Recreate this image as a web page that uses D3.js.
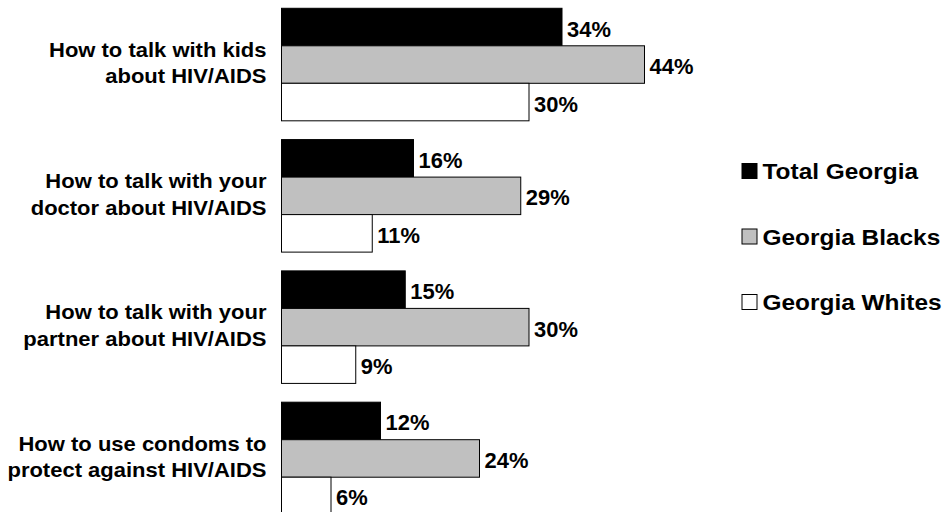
<!DOCTYPE html>
<html>
<head>
<meta charset="utf-8">
<script src="https://cdn.jsdelivr.net/npm/d3@7"></script>
<style>
  html, body { margin: 0; padding: 0; background: #fff; }
  svg { display: block; font-family: "Liberation Sans", Arial, Helvetica, sans-serif; font-weight: bold; }
</style>
</head>
<body>
<svg id="chart" width="948" height="512"></svg>
<script>
const categories = [
  ["How to talk with kids", "about HIV/AIDS"],
  ["How to talk with your", "doctor about HIV/AIDS"],
  ["How to talk with your", "partner about HIV/AIDS"],
  ["How to use condoms to", "protect against HIV/AIDS"]
];
const seriesNames = ["Total Georgia", "Georgia Blacks", "Georgia Whites"];
const seriesColors = ["#000000", "#c0c0c0", "#ffffff"];
const totalGeorgia = [34, 16, 15, 12];
const georgiaBlacks = [44, 29, 30, 24];
const georgiaWhites = [30, 11, 9, 6];
const seriesValues = [totalGeorgia, georgiaBlacks, georgiaWhites];

const svg = d3.select("#chart");

const catIdx = categories.map((c, i) => i);
const y = d3.scaleBand().domain(catIdx).range([-1.1, 524.1]).paddingInner(0.143).paddingOuter(0.0715);
const ySub = d3.scaleBand().domain(d3.range(seriesNames.length)).range([0, y.bandwidth()]);
const x = d3.scaleLinear().domain([0, 44]).range([281.5, 644.5]);

const groups = svg.selectAll("g.grp").data(catIdx).join("g")
  .attr("class", "grp")
  .attr("transform", i => `translate(0,${y(i)})`);

seriesNames.forEach((name, s) => {
  groups.append("rect")
    .attr("x", x(0))
    .attr("y", ySub(s))
    .attr("width", i => x(seriesValues[s][i]) - x(0))
    .attr("height", ySub.bandwidth())
    .attr("fill", seriesColors[s])
    .attr("stroke", "#000")
    .attr("stroke-width", 1);
  groups.append("text")
    .attr("transform", i => `translate(${x(seriesValues[s][i]) + 5},${ySub(s) + ySub.bandwidth() / 2 + 9.5}) scale(1.02,1)`)
    .attr("font-size", 21.5)
    .attr("fill", "#000")
    .text(i => seriesValues[s][i] + "%");
});

// category labels
groups.each(function(i) {
  const g = d3.select(this);
  const cy = y.bandwidth() / 2 - 1.5;
  categories[i].forEach((line, k) => {
    g.append("text")
      .attr("transform", `translate(266.5,${cy + (k - 0.5) * 26.5 + 7}) scale(1.1,1)`)
      .attr("text-anchor", "end")
      .attr("font-size", 20)
      .attr("fill", "#000")
      .text(line);
  });
});

// legend
const legY = d3.scalePoint().domain(d3.range(seriesNames.length)).range([171, 302]);
const leg = svg.selectAll("g.leg").data(seriesNames).join("g")
  .attr("class", "leg")
  .attr("transform", (d, s) => `translate(742,${legY(s)})`);
leg.append("rect")
  .attr("x", 0).attr("y", -7.5)
  .attr("width", 15).attr("height", 15)
  .attr("fill", (d, s) => seriesColors[s])
  .attr("stroke", "#000").attr("stroke-width", 1);
leg.append("text")
  .attr("transform", `translate(20.5,8) scale(1.11,1)`)
  .attr("font-size", 22)
  .attr("fill", "#000")
  .text(d => d);
</script>
</body>
</html>
